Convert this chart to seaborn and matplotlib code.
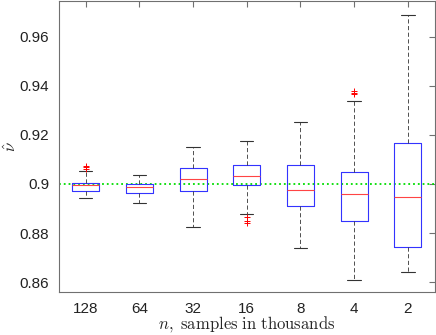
import matplotlib
matplotlib.use("Agg")
import matplotlib.pyplot as plt
import seaborn as sns

# dados (resumo de cada caixa)
grupos = ['128', '64', '32', '16', '8', '4', '2']
mediana = [0.8995, 0.8987, 0.9019, 0.9031, 0.8974, 0.8958, 0.8947]
q1 = [0.8973, 0.8963, 0.8970, 0.8995, 0.8911, 0.8850, 0.8744]
q3 = [0.9005, 0.8999, 0.9064, 0.9078, 0.9078, 0.9050, 0.9166]
bigode_inf = [0.8942, 0.8921, 0.8827, 0.8879, 0.8740, 0.8609, 0.8641]
bigode_sup = [0.9052, 0.9035, 0.9149, 0.9174, 0.9251, 0.9337, 0.9688]
outliers = [[0.9062, 0.9068, 0.9075], [], [], [0.8867, 0.8848, 0.8843],
            [], [0.9366, 0.9372, 0.9377], []]
referencia = 0.9

sns.set_theme(style="white")
plt.rcParams['font.family'] = ['Liberation Sans', 'DejaVu Sans']
plt.rcParams['mathtext.fontset'] = 'cm'

stats = []
for i, g in enumerate(grupos):
    stats.append({'label': g, 'med': mediana[i], 'q1': q1[i], 'q3': q3[i],
                  'whislo': bigode_inf[i], 'whishi': bigode_sup[i],
                  'fliers': outliers[i]})

fig, ax = plt.subplots(figsize=(4.36, 3.35), dpi=100)
fig.subplots_adjust(left=0.135, right=0.997, bottom=0.128, top=0.998)

ax.axhline(referencia, color='#00dd00', linestyle=':', linewidth=1.3, zorder=1)

ax.bxp(stats, widths=0.5, showfliers=True,
       boxprops=dict(color='#3333ff', linewidth=0.8),
       medianprops=dict(color='#ff4444', linewidth=0.8),
       whiskerprops=dict(color='#333333', linestyle=(0, (5, 3)), linewidth=0.6),
       capprops=dict(color='#333333', linewidth=0.8),
       flierprops=dict(marker='+', markeredgecolor='red', markersize=4,
                       markeredgewidth=0.7, linestyle='none'))

ax.set_xlim(0.5, 7.5)
ax.set_ylim(0.856, 0.9746)
ax.set_yticks([0.86, 0.88, 0.9, 0.92, 0.94, 0.96])
ax.set_yticklabels(['0.86', '0.88', '0.9', '0.92', '0.94', '0.96'])
ax.tick_params(direction='in', length=4, width=0.8, color='#707070',
               top=True, right=True, labelsize=11, labelcolor='#222222', pad=7)
for s in ax.spines.values():
    s.set_color('#707070')
    s.set_linewidth(0.8)

ax.set_xlabel(r'$n\mathrm{,\ samples\ in\ thousands}$', fontsize=12, labelpad=-1)
ax.set_ylabel(r'$\hat{\nu}$', fontsize=12)
ax.yaxis.set_label_coords(-0.105, 0.5)

plt.savefig('out.png', dpi=100)
